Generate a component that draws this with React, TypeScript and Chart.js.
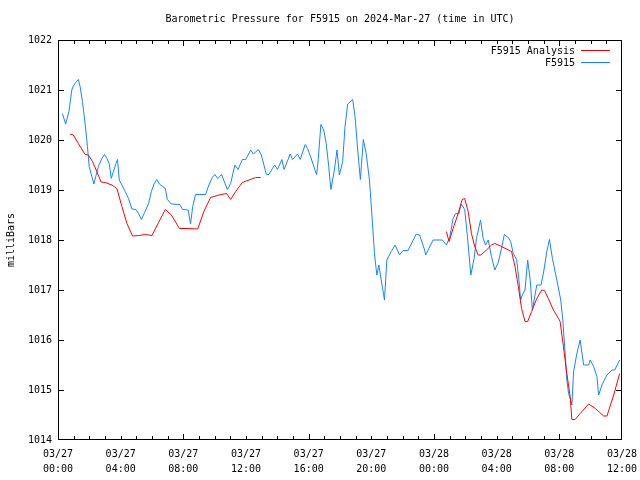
import React, { useEffect, useRef } from "react";
import { Chart, registerables } from "chart.js";

Chart.register(...registerables);

const TITLE = "Barometric Pressure for F5915 on 2024-Mar-27 (time in UTC)";
const Y_TITLE = "milliBars";
const FONT = "'DejaVu Sans Mono', 'Liberation Mono', monospace";

const X_TICK_HOURS = [0, 4, 8, 12, 16, 20, 24, 28, 32, 36];
const X_TICK_DATES = ["03/27", "03/27", "03/27", "03/27", "03/27", "03/27", "03/28", "03/28", "03/28", "03/28"];
const X_TICK_TIMES = ["00:00", "04:00", "08:00", "12:00", "16:00", "20:00", "00:00", "04:00", "08:00", "12:00"];

const X_MIN = 0;
const X_MAX = 36;
const Y_MIN = 1014;
const Y_MAX = 1022;

// Hours since 2024-03-27 00:00 UTC
const OBS_HOURS = [
  0.28, 0.49, 0.70, 0.88, 0.98, 1.13, 1.30, 1.41, 1.56, 1.73, 1.88, 1.99, 2.16, 2.29, 2.41, 2.58, 2.80, 2.97,
  3.12, 3.27, 3.40, 3.54, 3.70, 3.80, 3.91, 4.08, 4.29, 4.50, 4.72, 4.98, 5.14, 5.32, 5.53, 5.78, 5.96, 6.13,
  6.30, 6.47, 6.68, 6.85, 6.98, 7.24, 7.77, 7.96, 8.31, 8.46, 8.60, 8.78, 9.42, 9.63, 9.85, 10.01, 10.20, 10.44,
  10.81, 11.02, 11.29, 11.49, 11.77, 11.98, 12.30, 12.47, 12.79, 12.98, 13.30, 13.47, 13.69, 13.84, 14.01, 14.29,
  14.43, 14.82, 14.97, 15.29, 15.46, 15.78, 15.93, 16.14, 16.40, 16.51, 16.61, 16.78, 16.96, 17.12, 17.28, 17.42,
  17.64, 17.81, 17.96, 18.17, 18.32, 18.49, 18.81, 18.96, 19.13, 19.30, 19.49, 19.67, 19.88, 20.03, 20.20, 20.35,
  20.48, 20.63, 20.84, 20.99, 21.27, 21.52, 21.80, 22.02, 22.34, 22.87, 23.08, 23.40, 23.47, 23.94, 24.53, 24.79,
  25.00, 25.22, 25.37, 25.58, 25.75, 25.96, 26.14, 26.35, 26.56, 26.71, 26.97, 27.14, 27.29, 27.46, 27.67, 27.88,
  28.10, 28.31, 28.49, 28.74, 28.89, 29.06, 29.27, 29.42, 29.53, 29.64, 29.81, 29.98, 30.13, 30.28, 30.56, 30.83,
  31.02, 31.20, 31.37, 31.56, 31.84, 32.09, 32.22, 32.37, 32.48, 32.59, 32.73, 32.80, 32.91, 33.12, 33.33, 33.55,
  33.87, 33.97, 34.19, 34.40, 34.51, 34.72, 35.04, 35.36, 35.53, 35.85,
];
const OBS_VALUES = [
  1020.53, 1020.32, 1020.57, 1021.0, 1021.08, 1021.15, 1021.21, 1021.07, 1020.77, 1020.33, 1019.87, 1019.47,
  1019.27, 1019.12, 1019.27, 1019.47, 1019.63, 1019.71, 1019.63, 1019.53, 1019.23, 1019.37, 1019.53, 1019.61,
  1019.2, 1019.1, 1018.97, 1018.83, 1018.62, 1018.61, 1018.53, 1018.41, 1018.55, 1018.73, 1018.97, 1019.12,
  1019.21, 1019.12, 1019.07, 1019.03, 1018.81, 1018.72, 1018.71, 1018.61, 1018.6, 1018.32, 1018.67, 1018.91,
  1018.91, 1019.1, 1019.25, 1019.31, 1019.23, 1019.31, 1019.01, 1019.13, 1019.5, 1019.41, 1019.61, 1019.61,
  1019.8, 1019.72, 1019.81, 1019.7, 1019.31, 1019.31, 1019.43, 1019.5, 1019.41, 1019.61, 1019.41, 1019.72,
  1019.61, 1019.72, 1019.61, 1019.91, 1019.83, 1019.65, 1019.4, 1019.31, 1019.61, 1020.31, 1020.2, 1019.93,
  1019.47, 1019.01, 1019.4, 1019.8, 1019.3, 1019.57, 1020.27, 1020.72, 1020.81, 1020.47, 1019.8, 1019.21,
  1020.01, 1019.73, 1019.2, 1018.53, 1017.73, 1017.3, 1017.5, 1017.2, 1016.8, 1017.6, 1017.77, 1017.9,
  1017.7, 1017.79, 1017.79, 1018.12, 1018.1, 1017.8, 1017.7, 1018.0, 1018.0, 1017.9, 1018.05, 1018.43,
  1018.53, 1018.53, 1018.72, 1018.61, 1018.05, 1017.3, 1017.63, 1018.03, 1018.4, 1018.03, 1017.9, 1018.0,
  1017.67, 1017.4, 1017.55, 1017.83, 1018.11, 1018.05, 1017.97, 1017.73, 1017.61, 1017.21, 1016.8, 1016.9,
  1017.0, 1017.6, 1017.23, 1016.6, 1017.1, 1017.1, 1017.4, 1017.77, 1018.01, 1017.63, 1017.2, 1016.8,
  1016.4, 1015.73, 1015.2, 1014.93, 1014.8, 1014.7, 1015.37, 1015.73, 1016.0, 1015.5, 1015.5, 1015.6,
  1015.47, 1015.27, 1014.9, 1015.1, 1015.3, 1015.4, 1015.4, 1015.6,
];

// Analysis series; null marks the gap between the two segments
const ANALYSIS_HOURS = [
  0.77, 0.98, 1.30, 1.73, 1.94, 2.20, 2.48, 2.75, 3.01, 3.44, 3.76, 4.08, 4.40, 4.76, 5.14, 5.57, 6.00, 6.42,
  6.85, 7.24, 7.75, 8.35, 8.92, 9.31, 9.74, 10.27, 10.76, 11.02, 11.34, 11.77, 12.19, 12.62, 12.94,
  18.0,
  24.79, 24.96, 25.22, 25.54, 25.80, 25.96, 26.18, 26.39, 26.60, 26.82, 26.99, 27.35, 27.67, 27.88, 28.31, 28.95,
  29.17, 29.38, 29.59, 29.81, 29.98, 30.23, 30.56, 30.88, 31.05, 31.30, 31.62, 31.95, 32.05, 32.26, 32.48, 32.69,
  32.80, 33.01, 33.33, 33.87, 34.30, 34.83, 35.04, 35.47, 35.85,
];
const ANALYSIS_VALUES = [
  1020.12, 1020.1, 1019.93, 1019.71, 1019.7, 1019.57, 1019.37, 1019.16, 1019.15, 1019.1, 1019.03, 1018.67,
  1018.33, 1018.08, 1018.09, 1018.11, 1018.09, 1018.35, 1018.61, 1018.5, 1018.23, 1018.23, 1018.22, 1018.57,
  1018.85, 1018.9, 1018.93, 1018.81, 1018.97, 1019.15, 1019.2, 1019.25, 1019.25,
  null,
  1018.17, 1017.97, 1018.23, 1018.53, 1018.81, 1018.83, 1018.57, 1018.13, 1017.87, 1017.7, 1017.7, 1017.8,
  1017.9, 1017.93, 1017.87, 1017.77, 1017.47, 1017.07, 1016.63, 1016.37, 1016.37, 1016.57, 1016.83, 1017.0,
  1016.99, 1016.83, 1016.6, 1016.43, 1016.37, 1015.87, 1015.33, 1014.87, 1014.41, 1014.41, 1014.53, 1014.72,
  1014.63, 1014.48, 1014.48, 1014.9, 1015.33,
];

const RED = "#ff0000";
const BLUE = "#1485ff";

const framePlugin = {
  id: "gnuFrame",
  afterDraw(chart: any) {
    const ctx: CanvasRenderingContext2D = chart.ctx;
    const { left, right, top, bottom } = chart.chartArea;
    const xs = chart.scales.x;
    const ys = chart.scales.y;
    const L = Math.round(left);
    const R = Math.round(right) - 1;
    const T = Math.round(top);
    const B = Math.round(bottom) - 1;
    const xPix = (h: number) => {
      const p = xs.getPixelForValue(h);
      return Number.isFinite(p) ? p : left + ((h - X_MIN) / (X_MAX - X_MIN)) * (right - left);
    };
    const yPix = (v: number) => {
      const p = ys.getPixelForValue(v);
      return Number.isFinite(p) ? p : bottom - ((v - Y_MIN) / (Y_MAX - Y_MIN)) * (bottom - top);
    };
    ctx.save();
    ctx.globalCompositeOperation = "source-over";
    ctx.globalAlpha = 1;
    ctx.fillStyle = "#000000";
    // frame
    ctx.fillRect(L, T, R - L + 1, 1);
    ctx.fillRect(L, B, R - L + 1, 1);
    ctx.fillRect(L, T, 1, B - T + 1);
    ctx.fillRect(R, T, 1, B - T + 1);
    // x ticks (inward, top and bottom)
    for (let i = 0; i <= X_MAX - X_MIN; i++) {
      const h = X_MIN + i;
      const px = Math.min(R, Math.round(xPix(h)));
      const len = h % 8 === 0 ? 6 : 4;
      ctx.fillRect(px, B - len + 1, 1, len);
      ctx.fillRect(px, T, 1, len);
    }
    // y ticks (inward, left and right)
    for (let i = 0; i <= Y_MAX - Y_MIN; i++) {
      const v = Y_MIN + i;
      const py = Math.min(B, Math.round(yPix(v)));
      ctx.fillRect(L, py, 6, 1);
      ctx.fillRect(R - 5, py, 6, 1);
    }

    // legend (top right, inside plot)
    ctx.font = "10px " + FONT;
    ctx.textAlign = "right";
    ctx.textBaseline = "middle";
    chart.data.datasets.forEach((ds: any, i: number) => {
      const y = Math.round(top) + 10 + i * 12;
      ctx.fillStyle = "#000";
      ctx.fillText(ds.label, Math.round(right) - 47, y + 1);
      ctx.fillStyle = ds.borderColor;
      ctx.fillRect(Math.round(right) - 41, y, 29, 1);
    });
    ctx.restore();
  },
};

export default function App() {
  const ref = useRef<HTMLCanvasElement | null>(null);
  useEffect(() => {
    if (!ref.current) return;
    const obs = OBS_HOURS.map((h, i) => ({ x: h, y: OBS_VALUES[i] }));
    const ana = ANALYSIS_HOURS.map((h, i) => ({ x: h, y: ANALYSIS_VALUES[i] }));
    const chart = new Chart(ref.current, {
      type: "line",
      data: {
        datasets: [
          {
            label: "F5915 Analysis",
            data: ana as any,
            borderColor: RED,
            backgroundColor: RED,
            borderWidth: 1,
            pointRadius: 0,
            tension: 0,
            spanGaps: false,
          },
          {
            label: "F5915",
            data: obs as any,
            borderColor: BLUE,
            backgroundColor: BLUE,
            borderWidth: 1,
            pointRadius: 0,
            tension: 0,
          },
        ],
      },
      options: {
        animation: false,
        responsive: false,
        maintainAspectRatio: false,
        layout: { padding: { left: 0, right: 18, top: 0, bottom: 0 } },
        plugins: {
          legend: { display: false },
          tooltip: { enabled: false },
          title: {
            display: true,
            text: TITLE,
            color: "#000",
            fullSize: false,
            font: { family: FONT, size: 10, weight: "normal", lineHeight: 1.2 },
            padding: { top: 13, bottom: 15 },
          },
        },
        scales: {
          x: {
            type: "linear",
            min: X_MIN,
            max: X_MAX,
            grid: { display: false, drawTicks: false, tickLength: 0 },
            border: { display: false },
            afterFit(scale: any) {
              scale.height = 40;
              scale.paddingLeft = 0;
              scale.paddingRight = 0;
            },
            afterBuildTicks(scale: any) {
              scale.ticks = X_TICK_HOURS.map((v) => ({ value: v }));
            },
            ticks: {
              autoSkip: false,
              maxRotation: 0,
              minRotation: 0,
              padding: 7,
              color: "#000",
              font: { family: FONT, size: 10, lineHeight: 1.5 },
              callback: (value: any) => {
                const i = X_TICK_HOURS.indexOf(Number(value));
                return i >= 0 ? [X_TICK_DATES[i], X_TICK_TIMES[i]] : "";
              },
            },
          },
          y: {
            type: "linear",
            min: Y_MIN,
            max: Y_MAX,
            grid: { display: false, drawTicks: false, tickLength: 0 },
            border: { display: false },
            afterFit(scale: any) {
              scale.width = 58;
              scale.paddingTop = 0;
              scale.paddingBottom = 0;
            },
            title: {
              display: true,
              text: Y_TITLE,
              color: "#000",
              font: { family: FONT, size: 10, lineHeight: 1.2 },
              padding: { top: 5, bottom: 0 },
            },
            ticks: {
              stepSize: 1,
              padding: 6,
              color: "#000",
              font: { family: FONT, size: 10 },
              callback: (value: any) => String(value),
            },
          },
        },
      },
      plugins: [framePlugin],
    });
    return () => chart.destroy();
  }, []);
  return (
    <div style={{ position: "absolute", left: 0, top: 0, width: 640, height: 480, background: "#fff" }}>
      <canvas ref={ref} width={640} height={480} style={{ display: "block" }} />
    </div>
  );
}
